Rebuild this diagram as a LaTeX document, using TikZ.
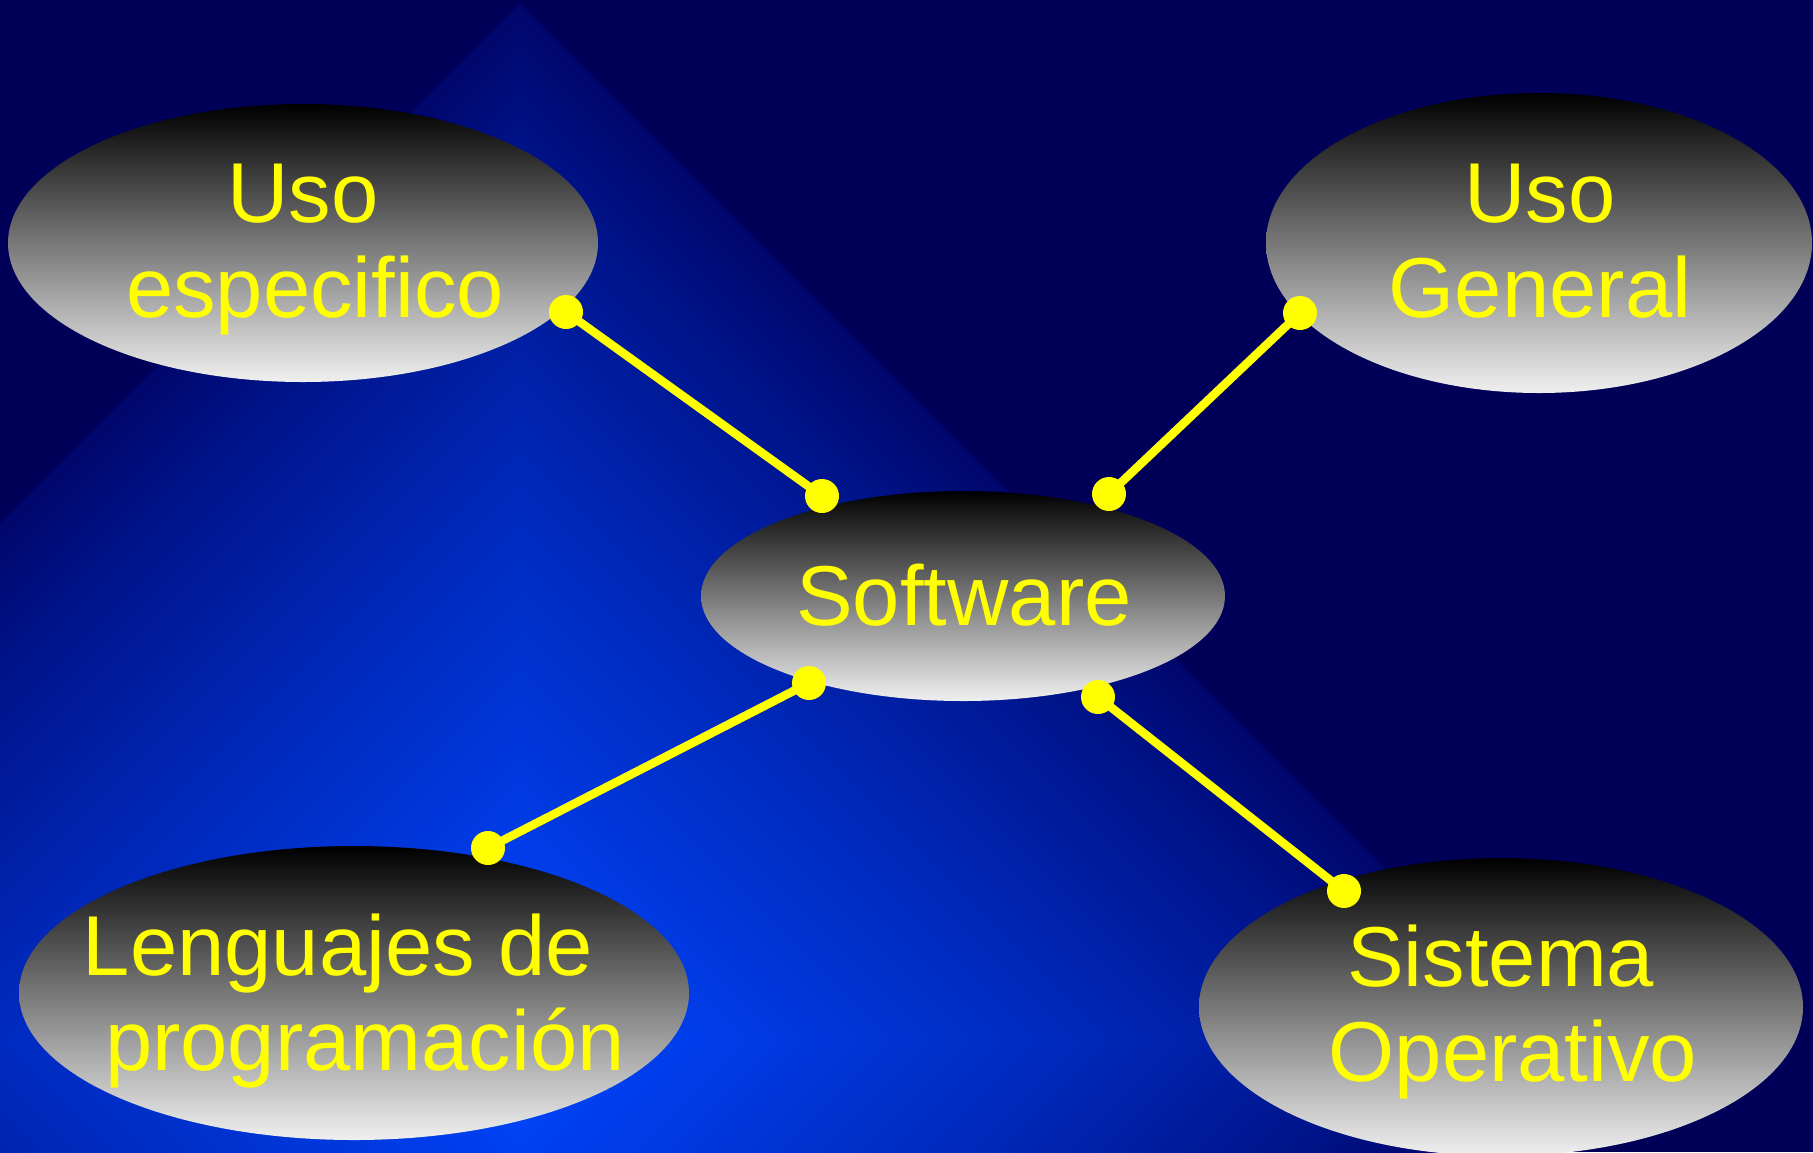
\documentclass[tikz,border=0pt]{standalone}
\usepackage{fontspec}
\setmainfont{Liberation Sans}
\usetikzlibrary{shapes.geometric}

\definecolor{navy}{RGB}{0,0,88}
\definecolor{labelyellow}{RGB}{255,255,0}

% Diamond ("from centre") glow: bright blue in the middle fading to dark navy at the corners
\pgfdeclarefunctionalshading{pyramidglow}{\pgfpoint{-50bp}{-50bp}}{\pgfpoint{50bp}{50bp}}{}{abs exch abs add 25 div dup 1 gt {pop 1} if 1 exch sub 0.8 exp 0 exch dup 0.255 mul 0.02 add exch 0.59 mul 0.41 add}

\begin{document}
\begin{tikzpicture}[x=1pt,y=-1pt,
  bubble/.style={ellipse, inner sep=0pt, outer sep=0pt, draw=none,
                 top color=black, bottom color=white!94!black},
  caption/.style={text=labelyellow, align=center, inner sep=0pt,
                  font=\fontsize{85}{95}\selectfont},
  link/.style={draw=labelyellow, line width=8.5pt},
  knob/.style={fill=labelyellow, draw=none}]

  % canvas
  \useasboundingbox (0,0) rectangle (1813,1152);
  \fill[navy] (0,0) rectangle (1813,1152);
  \begin{scope}
    \clip (0,0) rectangle (1813,1152);
    \shade[shading=pyramidglow] (520,3) -- (1557,1040) -- (520,2077) -- (-517,1040) -- cycle;
  \end{scope}

  % ellipses
  \node[bubble, minimum width=590pt, minimum height=278pt] (uesp)  at (303,243)  {};
  \node[bubble, minimum width=546pt, minimum height=300pt] (ugen)  at (1539,243) {};
  \node[bubble, minimum width=524pt, minimum height=210pt] (soft)  at (963,596)  {};
  \node[bubble, minimum width=670pt, minimum height=294pt] (leng)  at (354,993)  {};
  \node[bubble, minimum width=604pt, minimum height=298pt] (sisop) at (1501,1007) {};

  % labels
  \node[caption, anchor=north] (tuesp)  at (315,164)  {Uso\kern0.278em\\especifico};
  \node[caption, anchor=north] (tugen)  at (1540,164) {Uso\\General};
  \node[caption, anchor=base]  (tsoft)  at (964,625)  {Software};
  \node[caption, anchor=north] (tleng)  at (365,914)  {Lenguajes de\kern0.635em\\programación};
  \node[caption, anchor=north] (tsisop) at (1513,925) {Sistema\kern0.29em\\Operativo};

  % connector end points
  \coordinate (a1) at ([shift={(263,69)}]uesp.center);
  \coordinate (b1) at ([shift={(-141,-100)}]soft.center);
  \coordinate (a2) at ([shift={(-239,70)}]ugen.center);
  \coordinate (b2) at ([shift={(146,-102)}]soft.center);
  \coordinate (a3) at ([shift={(-154,87)}]soft.center);
  \coordinate (b3) at ([shift={(134,-145)}]leng.center);
  \coordinate (a4) at ([shift={(135,101)}]soft.center);
  \coordinate (b4) at ([shift={(-157,-116)}]sisop.center);

  % connectors
  \draw[link] (a1) -- (b1);
  \draw[link] (a2) -- (b2);
  \draw[link] (a3) -- (b3);
  \draw[link] (a4) -- (b4);
  \foreach \p in {a1,b1,a2,b2,a3,b3,a4,b4}
    \fill[knob] (\p) circle[radius=17pt];
\end{tikzpicture}
\end{document}
